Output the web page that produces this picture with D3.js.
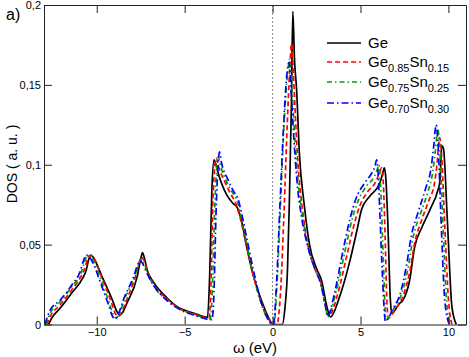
<!DOCTYPE html>
<html>
<head>
<meta charset="utf-8">
<script src="https://cdn.jsdelivr.net/npm/d3@7"></script>
<style>
  body { margin: 0; background: #fff; }
  text { font-family: "Liberation Sans", Arial, sans-serif; }
</style>
</head>
<body>
<div id="chart"></div>
<script>
// DOS curves: [omega (eV), DOS (a.u.)]
var geData = [[-12.75,0],[-12.5,0.005],[-12.1,0.010],[-11.4,0.020],[-10.8,0.029],[-10.6,0.034],[-10.45,0.041],[-10.35,0.0435],[-10.2,0.042],
  [-9.7,0.030],[-9.1,0.015],[-8.85,0.008],[-8.7,0.006],[-8.5,0.008],[-8.3,0.013],[-7.7,0.030],[-7.5,0.041],[-7.4,0.045],[-7.3,0.042],
  [-7.1,0.033],[-6.8,0.027],[-6.0,0.0166],[-5.3,0.0103],[-4.5,0.0072],[-3.7,0.0045],[-3.58,0.03],[-3.45,0.085],[-3.33,0.103],[-3.22,0.1],
  [-3.1,0.095],[-2.6,0.081],[-2.27,0.076],[-2.0,0.073],[-1.77,0.065],[-1.48,0.049],[-1.13,0.032],[-0.63,0.015],[-0.17,0.003],[0,0],
  [0.55,0],[0.7,0.01],[0.85,0.035],[0.95,0.075],[1.07,0.137],[1.15,0.196],[1.25,0.165],[1.36,0.148],[1.53,0.106],[1.8,0.075],[2.1,0.05],
  [2.5,0.035],[2.8,0.027],[3.07,0.012],[3.3,0.0047],[3.8,0.017],[4.4,0.040],[4.8,0.059],[5.06,0.072],[5.5,0.080],[6.08,0.088],[6.25,0.094],
  [6.36,0.098],[6.45,0.09],[6.55,0.065],[6.7,0.015],[6.78,0.007],[7.2,0.013],[7.4,0.015],[7.8,0.028],[8.07,0.048],[8.5,0.061],[9.0,0.073],
  [9.4,0.084],[9.52,0.09],[9.62,0.112],[9.72,0.11],[9.94,0.065],[10.2,0.011],[10.45,0]];

var sn15Data = [[-12.85,0],[-12.6,0.006],[-12.1,0.012],[-11.4,0.022],[-10.9,0.030],[-10.65,0.036],[-10.45,0.043],[-10.3,0.043],[-10.1,0.040],
  [-9.7,0.029],[-9.2,0.015],[-8.95,0.007],[-8.8,0.005],[-8.6,0.007],[-8.35,0.014],[-7.8,0.030],[-7.55,0.040],[-7.45,0.042],[-7.3,0.040],
  [-7.1,0.033],[-6.8,0.026],[-6.0,0.016],[-5.3,0.010],[-4.5,0.0068],[-3.62,0.004],[-3.52,0.02],[-3.4,0.075],[-3.28,0.100],[-3.2,0.104],
  [-3.05,0.098],[-2.7,0.089],[-2.4,0.082],[-2.1,0.076],[-1.85,0.067],[-1.5,0.050],[-1.1,0.031],[-0.65,0.014],[-0.2,0.003],[0,0],
  [0.25,0],[0.45,0.02],[0.65,0.07],[0.85,0.13],[1.0,0.165],[1.08,0.176],[1.18,0.158],[1.3,0.13],[1.45,0.1],[1.7,0.072],[2.0,0.05],
  [2.4,0.035],[2.75,0.026],[3.0,0.012],[3.2,0.005],[3.7,0.019],[4.2,0.042],[4.6,0.061],[4.95,0.074],[5.4,0.083],[5.9,0.090],[6.1,0.096],
  [6.2,0.098],[6.3,0.088],[6.4,0.055],[6.5,0.015],[6.58,0.004],[7.0,0.010],[7.4,0.017],[7.8,0.033],[8.1,0.052],[8.5,0.066],[8.9,0.078],
  [9.2,0.088],[9.35,0.1],[9.5,0.117],[9.6,0.108],[9.8,0.06],[10.0,0.016],[10.2,0]];

var sn25Data = [[-12.9,0],[-12.6,0.008],[-12.1,0.014],[-11.4,0.024],[-10.9,0.032],[-10.7,0.039],[-10.55,0.043],[-10.35,0.042],[-10.1,0.038],
  [-9.8,0.029],[-9.3,0.014],[-9.05,0.006],[-8.9,0.004],[-8.7,0.007],[-8.45,0.015],[-7.85,0.030],[-7.6,0.038],[-7.5,0.041],[-7.35,0.039],
  [-7.1,0.032],[-6.8,0.025],[-6.0,0.015],[-5.3,0.0098],[-4.5,0.0065],[-3.55,0.0035],[-3.45,0.015],[-3.3,0.07],[-3.18,0.098],[-3.1,0.105],
  [-2.95,0.099],[-2.6,0.089],[-2.3,0.083],[-2.0,0.077],[-1.8,0.068],[-1.5,0.052],[-1.1,0.031],[-0.7,0.015],[-0.25,0.003],[0,0],
  [0.08,0],[0.25,0.025],[0.45,0.075],[0.65,0.125],[0.85,0.157],[0.97,0.166],[1.1,0.148],[1.25,0.12],[1.45,0.09],[1.7,0.068],[2.0,0.05],
  [2.4,0.035],[2.75,0.025],[3.0,0.012],[3.15,0.005],[3.6,0.02],[4.1,0.045],[4.5,0.065],[4.85,0.077],[5.3,0.086],[5.8,0.093],[5.95,0.097],
  [6.05,0.100],[6.15,0.085],[6.3,0.04],[6.45,0.003],[6.9,0.010],[7.3,0.018],[7.7,0.035],[8.0,0.055],[8.4,0.069],[8.8,0.082],[9.1,0.095],
  [9.25,0.108],[9.4,0.122],[9.5,0.112],[9.7,0.06],[9.9,0.014],[10.1,0]];

var sn30Data = [[-12.95,0],[-12.65,0.009],[-12.1,0.015],[-11.4,0.025],[-10.95,0.033],[-10.75,0.040],[-10.6,0.0435],[-10.4,0.042],[-10.15,0.037],
  [-9.85,0.028],[-9.35,0.013],[-9.1,0.005],[-8.95,0.0035],[-8.75,0.007],[-8.5,0.015],[-7.9,0.030],[-7.65,0.038],[-7.52,0.040],[-7.38,0.038],
  [-7.1,0.031],[-6.8,0.025],[-6.0,0.015],[-5.3,0.0095],[-4.5,0.006],[-3.45,0.003],[-3.35,0.015],[-3.2,0.075],[-3.1,0.1],[-3.02,0.108],
  [-2.9,0.101],[-2.55,0.091],[-2.25,0.084],[-1.95,0.078],[-1.75,0.069],[-1.45,0.053],[-1.05,0.032],[-0.7,0.016],[-0.25,0.003],[0,0],
  [0.05,0],[0.22,0.025],[0.42,0.075],[0.62,0.123],[0.8,0.155],[0.93,0.164],[1.05,0.146],[1.2,0.118],[1.4,0.088],[1.65,0.067],[2.0,0.049],
  [2.4,0.035],[2.75,0.025],[3.0,0.012],[3.12,0.005],[3.55,0.021],[4.0,0.046],[4.4,0.066],[4.75,0.079],[5.2,0.088],[5.65,0.095],[5.82,0.099],
  [5.92,0.103],[6.0,0.095],[6.1,0.07],[6.25,0.03],[6.42,0.002],[6.85,0.010],[7.25,0.019],[7.6,0.036],[7.9,0.056],[8.3,0.071],[8.7,0.085],
  [9.0,0.097],[9.15,0.11],[9.3,0.125],[9.4,0.115],[9.6,0.06],[9.8,0.014],[10.05,0]];

var xTicks = [-10, -5, 0, 5, 10];
var yTicks = [0, 0.05, 0.1, 0.15, 0.2];
var yTickLabels = ["0", "0,05", "0,1", "0,15", "0,2"];

// legend names: [base, sub, base, sub]
var seriesNames = [["Ge"], ["Ge", "0.85", "Sn", "0.15"], ["Ge", "0.75", "Sn", "0.25"], ["Ge", "0.70", "Sn", "0.30"]];

var svgWidth = 469;
var svgHeight = 357;
var margin = { top: 5, right: 3, bottom: 32.5, left: 44 };
var width = svgWidth - margin.left - margin.right;
var height = svgHeight - margin.top - margin.bottom;

var svg = d3.select("#chart").append("svg")
  .attr("width", svgWidth)
  .attr("height", svgHeight);

var chartGroup = svg.append("g")
  .attr("transform", `translate(${margin.left}, ${margin.top})`);

var x = d3.scaleLinear().domain([-13, 11]).range([0, width]);
var y = d3.scaleLinear().domain([0, 0.2]).range([height, 0]);

// dotted line at the Fermi level
chartGroup.append("line")
  .attr("x1", x(0)).attr("x2", x(0))
  .attr("y1", 0).attr("y2", height)
  .attr("stroke", "#888")
  .attr("stroke-width", 1)
  .attr("stroke-dasharray", "2,2");

var styles = [
  { color: "#000000", dash: null, w: 1.7 },
  { color: "#ff0000", dash: "5,3", w: 1.7 },
  { color: "#00a000", dash: "5,3,1.5,3", w: 1.7 },
  { color: "#0000ff", dash: "7,3,1.5,3", w: 1.7 }
];
var allData = [geData, sn15Data, sn25Data, sn30Data];

chartGroup.append("clipPath").attr("id", "clip")
  .append("rect").attr("width", width).attr("height", height);

var line = d3.line()
  .x(d => x(d[0]))
  .y(d => y(d[1]))
  .curve(d3.curveMonotoneX);

[0, 1, 2, 3].forEach(function(i) {
  chartGroup.append("path")
    .datum(allData[i])
    .attr("clip-path", "url(#clip)")
    .attr("fill", "none")
    .attr("stroke", styles[i].color)
    .attr("stroke-width", styles[i].w)
    .attr("stroke-dasharray", styles[i].dash)
    .attr("d", line);
});

// axes, ticks inside on all four sides
var bottomAxis = d3.axisBottom(x).tickValues(xTicks).tickSizeInner(-8).tickSizeOuter(0).tickPadding(4);
var topAxis = d3.axisTop(x).tickValues(xTicks).tickSizeInner(-8).tickSizeOuter(0).tickFormat("");
var leftAxis = d3.axisLeft(y).tickValues(yTicks).tickSizeInner(-8).tickSizeOuter(0).tickPadding(3)
  .tickFormat((d, i) => yTickLabels[i]);
var rightAxis = d3.axisRight(y).tickValues(yTicks).tickSizeInner(-8).tickSizeOuter(0).tickFormat("");

var axes = [
  chartGroup.append("g").attr("transform", `translate(0, ${height})`).call(bottomAxis),
  chartGroup.append("g").call(topAxis),
  chartGroup.append("g").call(leftAxis),
  chartGroup.append("g").attr("transform", `translate(${width}, 0)`).call(rightAxis)
];
axes.forEach(function(g) {
  g.selectAll("path, line").attr("stroke", "#222").attr("stroke-width", 1);
  g.selectAll("text").attr("fill", "#000").style("font-size", "11px")
    .style("font-family", "'Liberation Sans', Arial, sans-serif");
});

// axis labels
svg.append("text")
  .attr("transform", "rotate(-90)")
  .attr("x", -164)
  .attr("y", 17)
  .attr("text-anchor", "middle")
  .style("font-size", "14px")
  .text("DOS ( a. u. )");

svg.append("text")
  .attr("x", 255)
  .attr("y", 353)
  .attr("text-anchor", "middle")
  .style("font-size", "15px")
  .text("ω (eV)");

svg.append("text")
  .attr("x", 6)
  .attr("y", 20)
  .style("font-size", "16px")
  .text("a)");

// legend
var legendRows = [43, 62, 82, 103];
seriesNames.forEach(function(parts, i) {
  svg.append("line")
    .attr("x1", 327).attr("x2", 361)
    .attr("y1", legendRows[i]).attr("y2", legendRows[i])
    .attr("stroke", styles[i].color)
    .attr("stroke-width", styles[i].w)
    .attr("stroke-dasharray", styles[i].dash);
  var t = svg.append("text")
    .attr("x", 368)
    .attr("y", legendRows[i] + 5)
    .style("font-size", "15px");
  parts.forEach(function(p, k) {
    var sub = k % 2 === 1;
    t.append("tspan")
      .attr("dy", k === 0 ? 0 : (sub ? 5 : -5))
      .style("font-size", sub ? "11px" : "15px")
      .text(p);
  });
});
</script>
</body>
</html>
